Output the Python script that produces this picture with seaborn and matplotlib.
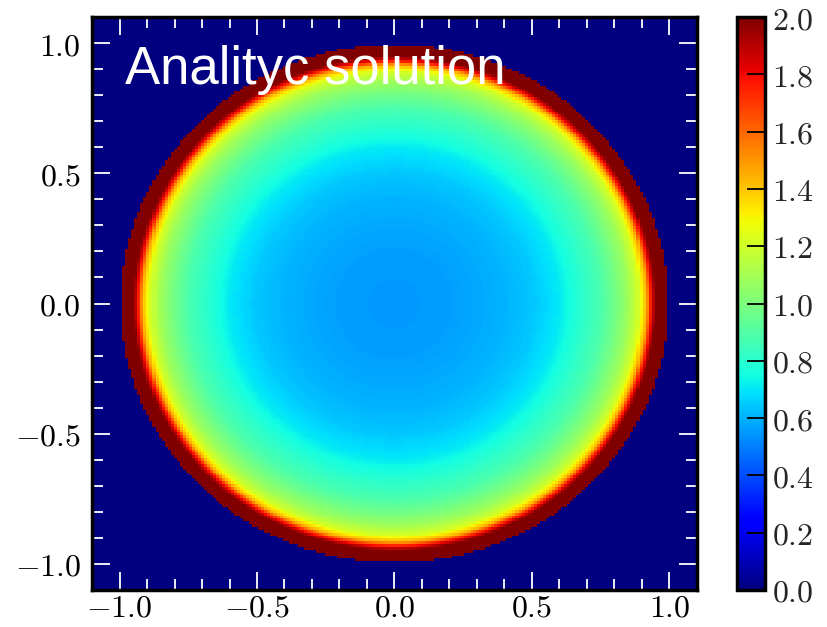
import numpy as np
import matplotlib
matplotlib.use("Agg")
import matplotlib.pyplot as plt
import seaborn as sns

# Radial profile of the analytic solution (radius -> value), zero outside the disc
profile_r = [0.00, 0.20, 0.40, 0.50, 0.60, 0.67, 0.75, 0.80, 0.85, 0.89, 0.915, 0.93, 0.948, 0.995]
profile_v = [0.55, 0.56, 0.60, 0.64, 0.71, 0.79, 0.88, 0.97, 1.08, 1.22, 1.45, 1.75, 2.00, 2.00]
disc_radius = 0.995
domain = [-1.1, 1.1]
n_cells = 200
axis_ticks = [-1.0, -0.5, 0.0, 0.5, 1.0]
cbar_ticks = [0.0, 0.2, 0.4, 0.6, 0.8, 1.0, 1.2, 1.4, 1.6, 1.8, 2.0]
title = "Analityc solution"

sns.set_style("white")
plt.rcParams["mathtext.fontset"] = "cm"

# Build the field on a regular grid
lo, hi = domain
step = (hi - lo) / n_cells
xc = lo + (np.arange(n_cells) + 0.5) * step
yc = hi - (np.arange(n_cells) + 0.5) * step
X, Y = np.meshgrid(xc, yc)
R = np.sqrt(X ** 2 + Y ** 2)
field = np.where(R <= disc_radius, np.interp(R, profile_r, profile_v), 0.0)

fig = plt.figure(figsize=(8.28, 6.27), dpi=100)
ax = fig.add_axes([92 / 828, 1 - 590 / 627, 605 / 828, 573 / 627])
cax = fig.add_axes([737 / 828, 1 - 590 / 627, 28 / 828, 573 / 627])

sns.heatmap(field, cmap="jet", vmin=0, vmax=2, ax=ax, cbar_ax=cax,
            xticklabels=False, yticklabels=False,
            cbar_kws={"ticks": cbar_ticks}, rasterized=True)


def to_x(v):
    return (v - lo) / (hi - lo) * n_cells


def to_y(v):
    return (hi - v) / (hi - lo) * n_cells


def fmt(v):
    return r"$%.1f$" % v


major = np.array(axis_ticks)
minor = np.round(np.arange(-1.1, 1.1001, 0.1), 2)
minor = minor[~np.isin(minor, major)]

lab_size = 23
ax.set_xticks([to_x(v) for v in major])
ax.set_xticklabels([fmt(v) for v in major], rotation=0, fontsize=lab_size)
ax.set_xticks([to_x(v) for v in minor], minor=True)
ax.set_yticks([to_y(v) for v in major])
ax.set_yticklabels([fmt(v) for v in major], rotation=0, fontsize=lab_size)
ax.set_yticks([to_y(v) for v in minor], minor=True)

ax.set_axisbelow(False)
ax.tick_params(which="both", direction="in", colors="white", labelcolor="black",
               top=True, right=True, bottom=True, left=True)
ax.tick_params(axis="x", which="both", pad=2)
ax.tick_params(axis="y", which="both", pad=8)
ax.tick_params(which="major", length=13, width=1.3)
ax.tick_params(which="minor", length=8, width=1.3)
for s in ax.spines.values():
    s.set_visible(True)
    s.set_color("black")
    s.set_linewidth(2.5)
    s.set_zorder(5)

ax.text(33 / 605, 0.883, title, transform=ax.transAxes,
        color="white", fontsize=38, family="Liberation Sans", va="baseline", ha="left")

cbar = ax.collections[0].colorbar
cbar.set_ticks(cbar_ticks)
cbar.set_ticklabels([fmt(v) for v in cbar_ticks], fontsize=lab_size)
cax.set_axisbelow(False)
cax.tick_params(direction="in", length=13, width=1.3, color="black", pad=5, right=True)
cbar.outline.set_visible(True)
cbar.outline.set_linewidth(2.5)
cbar.outline.set_edgecolor("black")

fig.savefig("out.png", dpi=100)
